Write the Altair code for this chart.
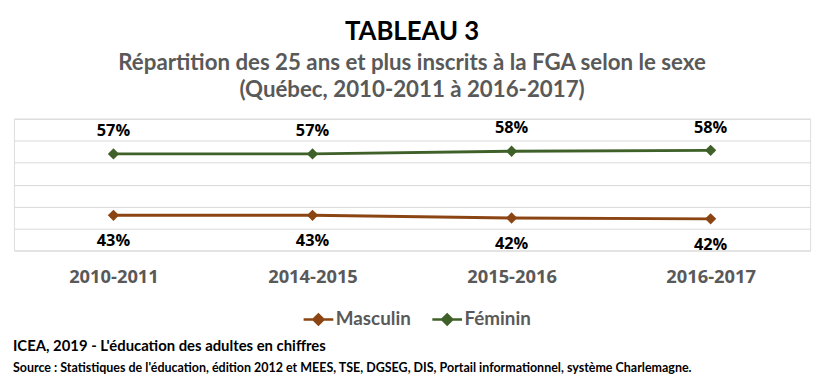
import altair as alt
import pandas as pd

periods = ["2010-2011", "2014-2015", "2015-2016", "2016-2017"]
masculin = [0.430, 0.430, 0.424, 0.422]
feminin = [0.570, 0.570, 0.576, 0.578]
series = ["Masculin", "Féminin"]
colors = ["#8B4513", "#3F6129"]

rows = []
for p, m, f in zip(periods, masculin, feminin):
    rows.append({"periode": p, "sexe": "Masculin", "valeur": m})
    rows.append({"periode": p, "sexe": "Féminin", "valeur": f})
df = pd.DataFrame(rows)

title_text = "TABLEAU 3"
subtitle_lines = ["Répartition des 25 ans et plus inscrits à la FGA selon le sexe",
                  "(Québec, 2010-2011 à 2016-2017)"]
footer1 = "ICEA, 2019 - L'éducation des adultes en chiffres"
footer2 = "Source : Statistiques de l'éducation, édition 2012 et MEES, TSE, DGSEG, DIS, Portail informationnel,  système Charlemagne."

x_enc = alt.X("periode:N", sort=periods, title=None,
              scale=alt.Scale(type="point", padding=0.5),
              axis=alt.Axis(labelAngle=0, domain=False, ticks=False, tickSize=0,
                            labelPadding=17, labelFont="Open Sans", labelFontSize=18.5,
                            labelFontWeight="bold", labelColor="#595959", grid=False))
y_enc = alt.Y("valeur:Q", title=None,
              scale=alt.Scale(domain=[0.35, 0.65], nice=False, zero=False),
              axis=alt.Axis(values=[0.35, 0.40, 0.45, 0.50, 0.55, 0.60, 0.65],
                            labels=False, domain=False, ticks=False, grid=True,
                            gridColor="#d9d9d9", gridWidth=1))

legend_path = "M-1,0H1M-0.34,0L0,-0.34L0.34,0L0,0.34Z"
leg = alt.Legend(title=None, orient="none", legendX=291, legendY=186,
                 direction="horizontal", symbolType=legend_path, symbolSize=900,
                 symbolStrokeWidth=2.5, labelFont="Lato", labelFontSize=19,
                 labelFontWeight="bold", labelColor="#595959", columnPadding=16,
                 labelOffset=1, padding=0)
scale = alt.Scale(domain=series, range=colors)

base = alt.Chart(df)

lines = base.mark_line(strokeWidth=3).encode(
    x=x_enc, y=y_enc,
    stroke=alt.Stroke("sexe:N", scale=scale, legend=leg),
)
points = base.mark_point(shape="diamond", filled=True, size=130, opacity=1).encode(
    x=x_enc, y=y_enc,
    fill=alt.Fill("sexe:N", scale=scale, legend=leg),
)
lab_f = base.transform_filter(alt.datum.sexe == "Féminin").mark_text(
    dy=-23, baseline="middle", font="Open Sans", fontSize=16.5, fontWeight="bold", color="#000000"
).encode(x=x_enc, y=y_enc, text=alt.Text("valeur:Q", format=".0%"))
lab_m = base.transform_filter(alt.datum.sexe == "Masculin").mark_text(
    dy=26, baseline="middle", font="Open Sans", fontSize=16.5, fontWeight="bold", color="#000000"
).encode(x=x_enc, y=y_enc, text=alt.Text("valeur:Q", format=".0%"))

foot = pd.DataFrame({"t": [footer1]})
f1 = alt.Chart(foot).mark_text(align="left", baseline="middle", font="Lato",
                               fontSize=15, fontWeight="bold", color="#000000").encode(
    x=alt.value(-1), y=alt.value(230), text=alt.value(footer1))
f2 = alt.Chart(foot).mark_text(align="left", baseline="middle", font="Lato",
                               fontSize=12.6, fontWeight="bold", color="#000000").encode(
    x=alt.value(-1), y=alt.value(252), text=alt.value(footer2))

chart = alt.layer(lines, points, lab_f, lab_m, f1, f2).properties(
    width=804, height=133,
    title=alt.TitleParams(text=title_text, subtitle=subtitle_lines, anchor="middle",
                          font="Lato", fontSize=26, fontWeight="bold", color="#000000",
                          subtitleFont="Lato", subtitleFontSize=22.5, subtitleFontWeight="bold",
                          subtitleColor="#595959", subtitleLineHeight=28, subtitlePadding=7,
                          offset=17),
    autosize=alt.AutoSizeParams(type="none"),
    padding={"left": 6, "top": 110, "right": 14, "bottom": 134},
).configure_view(stroke=None).configure(background="#ffffff")

chart.save("out.html", embed_options={"renderer": "svg", "actions": False})
